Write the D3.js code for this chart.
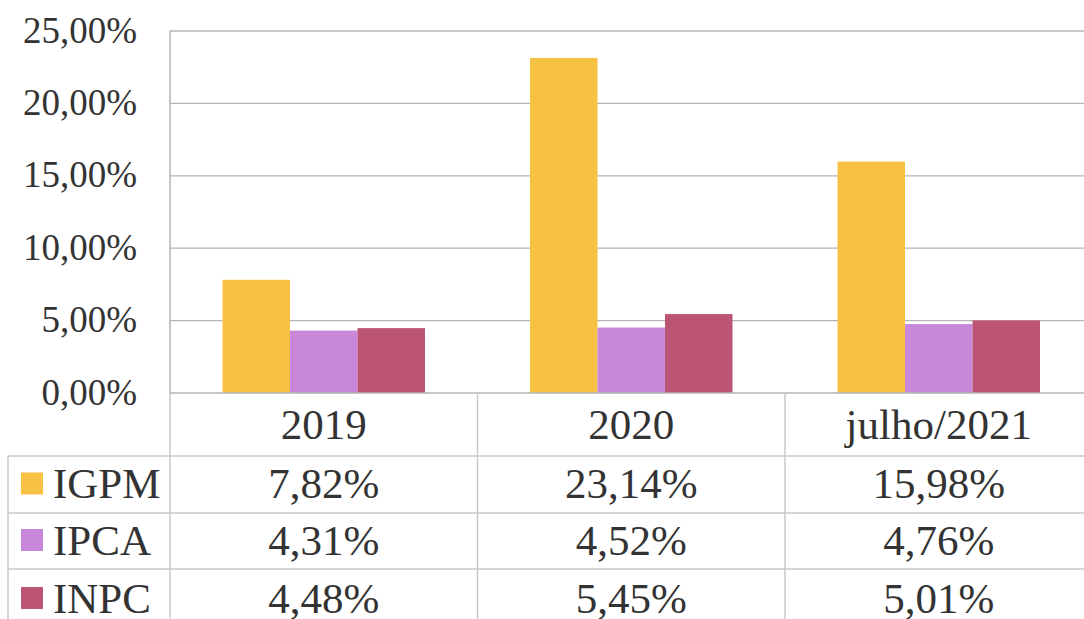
<!DOCTYPE html>
<html><head><meta charset="utf-8">
<script src="https://cdn.jsdelivr.net/npm/d3@7"></script>
<style>body{margin:0;background:#fff}svg{display:block}text{font-family:"Liberation Serif","Times New Roman","DejaVu Serif",serif}</style>
</head><body>
<script>
const categories = ["2019", "2020", "julho/2021"];
const seriesNames = ["IGPM", "IPCA", "INPC"];
const igpm = [7.82, 23.14, 15.98];
const ipca = [4.31, 4.52, 4.76];
const inpc = [4.48, 5.45, 5.01];
const yTicks = [0, 5, 10, 15, 20, 25];
const colors = ["#F7C244", "#C987DA", "#BC5474"];
const seriesValues = [igpm, ipca, inpc];

const W = 1084, H = 619;
const svg = d3.select("body").append("svg").attr("width", W).attr("height", H);
const fmt = v => v.toFixed(2).replace(".", ",") + "%";

const plotLeft = 170, bandW = 307.5;
const x = d3.scaleBand().domain(categories).range([plotLeft, plotLeft + bandW * categories.length]).padding(0);
const x1 = d3.scaleBand().domain(seriesNames).range([52.5, 255]).padding(0);
const y = d3.scaleLinear().domain([0, 25]).range([393, 31]);

const gridColor = "#b5b5b5", tableColor = "#c5cace";
const txt = "#333";

svg.append("g").selectAll("line").data(yTicks.filter(d => d > 0)).join("line")
  .attr("x1", plotLeft).attr("x2", W).attr("y1", d => y(d)).attr("y2", d => y(d))
  .attr("stroke", gridColor).attr("stroke-width", 1.3);

const yAxis = d3.axisLeft(y).tickValues(yTicks).tickFormat(d => fmt(d)).tickSize(0).tickPadding(33);
const ya = svg.append("g").attr("transform", `translate(${plotLeft},0)`).call(yAxis);
ya.select(".domain").remove();
ya.attr("font-family", null).attr("font-size", null);
ya.selectAll("text").attr("font-size", 37).attr("fill", txt).attr("dy", "0.3em");

const groups = svg.append("g").selectAll("g").data(categories).join("g")
  .attr("transform", d => `translate(${x(d)},0)`);
groups.selectAll("rect").data((c, i) => seriesNames.map((s, j) => ({s, v: seriesValues[j][i], j}))).join("rect")
  .attr("x", d => x1(d.s)).attr("width", x1.bandwidth())
  .attr("y", d => y(d.v)).attr("height", d => y(0) - y(d.v))
  .attr("fill", d => colors[d.j]);

const tLeft = 8, rowTops = [393, 456, 513, 569, 626];
const tg = svg.append("g").attr("stroke", tableColor).attr("stroke-width", 1.5);
tg.append("line").attr("x1", plotLeft).attr("x2", W).attr("y1", rowTops[0]).attr("y2", rowTops[0]).attr("stroke", gridColor);
[1, 2, 3].forEach(i => tg.append("line").attr("x1", tLeft).attr("x2", W).attr("y1", rowTops[i]).attr("y2", rowTops[i]));
tg.append("line").attr("x1", plotLeft).attr("x2", plotLeft).attr("y1", y(25)).attr("y2", rowTops[0]).attr("stroke", gridColor);
tg.append("line").attr("x1", plotLeft).attr("x2", plotLeft).attr("y1", rowTops[0]).attr("y2", H);
tg.append("line").attr("x1", tLeft).attr("x2", tLeft).attr("y1", rowTops[1]).attr("y2", H);
categories.forEach(c => {
  tg.append("line").attr("x1", x(c) + bandW).attr("x2", x(c) + bandW).attr("y1", rowTops[0]).attr("y2", H);
});

svg.append("g").selectAll("text").data(categories).join("text")
  .attr("x", d => x(d) + bandW / 2).attr("y", (rowTops[0] + rowTops[1]) / 2)
  .attr("text-anchor", "middle").attr("dominant-baseline", "central")
  .attr("font-size", 43).attr("fill", txt).text(d => d);

seriesNames.forEach((s, j) => {
  const cy = j === 2 ? 598 : (rowTops[j + 1] + rowTops[j + 2]) / 2 - 1;
  svg.append("rect").attr("x", 21).attr("y", cy - 11).attr("width", 22).attr("height", 22).attr("fill", colors[j]);
  svg.append("text").attr("x", 53).attr("y", cy).attr("dominant-baseline", "central")
    .attr("font-size", 43).attr("fill", txt).text(s);
  svg.append("g").selectAll("text").data(categories).join("text")
    .attr("x", d => x(d) + bandW / 2).attr("y", cy)
    .attr("text-anchor", "middle").attr("dominant-baseline", "central")
    .attr("font-size", 43).attr("fill", txt)
    .text((d, i) => fmt(seriesValues[j][i]));
});
</script>
</body></html>
